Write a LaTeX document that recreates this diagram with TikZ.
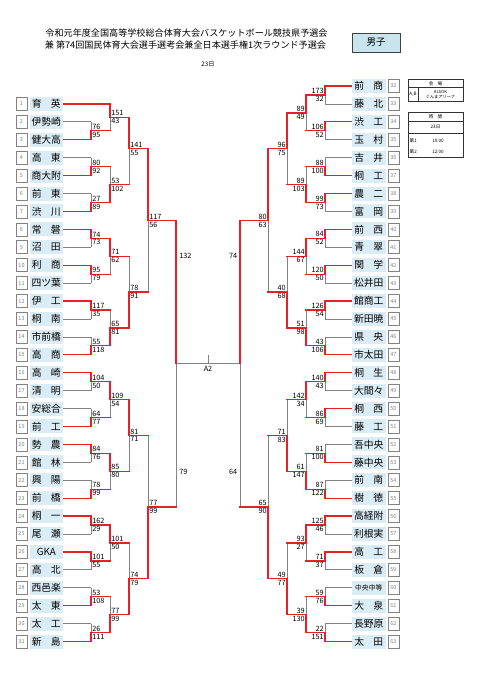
\documentclass[tikz,border=0pt]{standalone}
\usepackage{fontspec}
\newfontfamily\jp{Noto Sans CJK JP}
\definecolor{bred}{RGB}{228,32,40}
\definecolor{bgray}{RGB}{130,130,130}
\definecolor{cellblue}{RGB}{218,236,245}
\definecolor{titleblue}{RGB}{200,228,238}
\pgfdeclarelayer{bg}
\pgfdeclarelayer{paper}
\pgfsetlayers{paper,bg,main}
\tikzset{
  win/.style={draw=bred, line width=1.3pt, line cap=rect},
  lose/.style={draw=bgray, line width=0.7pt},
  sc/.style={font=\jp\fontsize{7.3}{7.3}\selectfont, inner sep=1.1pt},
  numbox/.style={draw=bgray, fill=white, line width=0.6pt, minimum width=11pt, minimum height=13pt, inner sep=0pt, font=\jp\fontsize{5.5}{5.5}\selectfont, text=bgray},
  namecell/.style={fill=cellblue, minimum width=33.5pt, minimum height=14pt, inner sep=0pt, font=\jp\fontsize{9.8}{9.8}\selectfont},
  boxline/.style={draw=black!80, line width=0.6pt},
  tiny/.style={font=\jp\fontsize{4.6}{4.6}\selectfont, inner sep=0pt},
}
\newcommand\two[2]{\makebox[29pt][s]{#1\hfil#2}}
% left team: index, name, style, x end
\newcommand\tL[4]{%
  \pgfmathsetmacro\myYy{86+#1*17.92}
  \node[numbox] (nL#1) at (21.5,\myYy) {#1};
  \node[namecell] (tL#1) at (46.25,\myYy) {#2};
  \ifx#3w\draw[win] (tL#1.east) -- (#4,\myYy);\else
  \begin{pgfonlayer}{bg}\draw[lose] (tL#1.east) -- (#4,\myYy);\end{pgfonlayer}\fi
}
% right team
\newcommand\tR[3]{%
  \pgfmathsetmacro\myYy{86+(#1-32)*17.92}
  \node[numbox] (nR#1) at (393.3,\myYy) {#1};
  \node[namecell] (tR#1) at (368.75,\myYy) {#2};
  \ifx#3w\draw[win] (tR#1.west) -- (325,\myYy);\else
  \begin{pgfonlayer}{bg}\draw[lose] (tR#1.west) -- (325,\myYy);\end{pgfonlayer}\fi
}
% match: xv, xout, row upper, row lower, row junction, winner u/l
\newcommand\mtcore[6]{%
  \pgfmathsetmacro\myYu{86+#3*17.92}
  \pgfmathsetmacro\myYl{86+#4*17.92}
  \pgfmathsetmacro\myYj{86+#5*17.92}
  \if#6u
    \begin{pgfonlayer}{bg}\draw[lose] (#1,\myYj) -- (#1,\myYl);\end{pgfonlayer}
    \draw[win] (#1,\myYu) -- (#1,\myYj);
  \else
    \begin{pgfonlayer}{bg}\draw[lose] (#1,\myYu) -- (#1,\myYj);\end{pgfonlayer}
    \draw[win] (#1,\myYj) -- (#1,\myYl);
  \fi
  \draw[win] (#1,\myYj) -- (#2,\myYj);
}
\newcommand\mtL[8]{%
  \mtcore{#1}{#2}{#3}{#4}{#5}{#6}
  \node[sc,anchor=south west] at (#1,\myYj) {#7};
  \node[sc,anchor=north west] at (#1,\myYj) {#8};
}
\newcommand\mtR[8]{%
  \mtcore{#1}{#2}{#3}{#4}{#5}{#6}
  \node[sc,anchor=south east] at (#1,\myYj) {#7};
  \node[sc,anchor=north east] at (#1,\myYj) {#8};
}
\begin{document}
\begin{tikzpicture}[x=1pt,y=-1pt]
\begin{pgfonlayer}{paper}
\fill[white] (0,0) rectangle (481,680);
\end{pgfonlayer}
\useasboundingbox (0,0) rectangle (481,680);

% header
\node[font=\jp\fontsize{9.1}{9.1}\selectfont, inner sep=0pt] (t1) at (186.5,33.5) {令和元年度全国高等学校総合体育大会バスケットボール競技県予選会};
\node[font=\jp\fontsize{9.1}{9.1}\selectfont, inner sep=0pt] (t2) at (185.5,45) {兼 第74回国民体育大会選手選考会兼全日本選手権1次ラウンド予選会};
\node[font=\jp\fontsize{6.2}{6.2}\selectfont, inner sep=0pt] (day) at (208,64.5) {23日};
\node[draw=black!75, line width=0.7pt, fill=titleblue, minimum width=48pt, minimum height=19pt, inner sep=0pt, font=\jp\fontsize{9.5}{9.5}\selectfont] (sex) at (376,42.5) {男子};

% info box 1
\draw[boxline] (408,79) rectangle (463,101);
\draw[boxline] (408,87.5) -- (463,87.5);
\draw[boxline] (418,87.5) -- (418,101);
\node[tiny] (v1) at (435.5,83.3) {会\hspace{4pt}場};
\node[tiny] (v2) at (413,94.3) {A,B};
\node[tiny, align=center, font=\jp\fontsize{4.2}{4.6}\selectfont] (v3) at (440.5,94.3) {ALSOK\\ぐんまアリーナ};
% info box 2
\draw[boxline] (408,112) rectangle (463,157);
\draw[boxline] (408,121.5) -- (463,121.5);
\draw[boxline] (408,133) -- (463,133);
\node[tiny] (w1) at (435.5,116.8) {時\hspace{4pt}間};
\node[tiny] (w2) at (435.5,127.3) {23日};
\node[tiny, anchor=west] (w3) at (409.5,140.5) {第1};
\node[tiny] (w4) at (438,140.5) {10:00};
\node[tiny, anchor=west] (w5) at (409.5,151.5) {第2};
\node[tiny] (w6) at (438,151.5) {12:00};

% left teams
\tL{1}{\two{育}{英}}{w}{110}
\tL{2}{伊勢崎}{l}{91}
\tL{3}{健大高}{w}{91}
\tL{4}{\two{高}{東}}{l}{91}
\tL{5}{商大附}{w}{91}
\tL{6}{\two{前}{東}}{l}{91}
\tL{7}{\two{渋}{川}}{w}{91}
\tL{8}{\two{常}{磐}}{w}{91}
\tL{9}{\two{沼}{田}}{l}{91}
\tL{10}{\two{利}{商}}{w}{91}
\tL{11}{四ツ葉}{l}{91}
\tL{12}{\two{伊}{工}}{w}{91}
\tL{13}{\two{桐}{南}}{l}{91}
\tL{14}{市前橋}{l}{91}
\tL{15}{\two{高}{商}}{w}{91}
\tL{16}{\two{高}{崎}}{w}{91}
\tL{17}{\two{清}{明}}{l}{91}
\tL{18}{安総合}{l}{91}
\tL{19}{\two{前}{工}}{w}{91}
\tL{20}{\two{勢}{農}}{w}{91}
\tL{21}{\two{館}{林}}{l}{91}
\tL{22}{\two{興}{陽}}{l}{91}
\tL{23}{\two{前}{橋}}{w}{91}
\tL{24}{\two{桐}{一}}{w}{91}
\tL{25}{\two{尾}{瀬}}{l}{91}
\tL{26}{GKA}{w}{91}
\tL{27}{\two{高}{北}}{l}{91}
\tL{28}{西邑楽}{l}{91}
\tL{29}{\two{太}{東}}{w}{91}
\tL{30}{\two{太}{工}}{l}{91}
\tL{31}{\two{新}{島}}{w}{91}

% right teams
\tR{32}{\two{前}{商}}{w}
\tR{33}{\two{藤}{北}}{l}
\tR{34}{\two{渋}{工}}{w}
\tR{35}{\two{玉}{村}}{l}
\tR{36}{\two{吉}{井}}{l}
\tR{37}{\two{桐}{工}}{w}
\tR{38}{\two{農}{二}}{w}
\tR{39}{\two{富}{岡}}{l}
\tR{40}{\two{前}{西}}{w}
\tR{41}{\two{青}{翠}}{l}
\tR{42}{\two{関}{学}}{w}
\tR{43}{松井田}{l}
\tR{44}{館商工}{w}
\tR{45}{新田暁}{l}
\tR{46}{\two{県}{央}}{l}
\tR{47}{市太田}{w}
\tR{48}{\two{桐}{生}}{w}
\tR{49}{大間々}{l}
\tR{50}{\two{桐}{西}}{w}
\tR{51}{\two{藤}{工}}{l}
\tR{52}{吾中央}{l}
\tR{53}{藤中央}{w}
\tR{54}{\two{前}{南}}{l}
\tR{55}{\two{樹}{徳}}{w}
\tR{56}{高経附}{w}
\tR{57}{利根実}{l}
\tR{58}{\two{高}{工}}{w}
\tR{59}{\two{板}{倉}}{l}
\tR{60}{{\fontsize{6.8}{6.8}\selectfont 中央中等}}{l}
\tR{61}{\two{大}{泉}}{w}
\tR{62}{長野原}{l}
\tR{63}{\two{太}{田}}{w}

% left round 1
\mtL{91}{110}{2}{3}{2.5}{l}{76}{95}
\mtL{91}{110}{4}{5}{4.5}{l}{80}{92}
\mtL{91}{110}{6}{7}{6.5}{l}{27}{89}
\mtL{91}{110}{8}{9}{8.5}{u}{74}{73}
\mtL{91}{110}{10}{11}{10.5}{u}{95}{79}
\mtL{91}{110}{12}{13}{12.5}{u}{117}{35}
\mtL{91}{110}{14}{15}{14.5}{l}{55}{118}
\mtL{91}{110}{16}{17}{16.5}{u}{104}{50}
\mtL{91}{110}{18}{19}{18.5}{l}{64}{77}
\mtL{91}{110}{20}{21}{20.5}{u}{84}{76}
\mtL{91}{110}{22}{23}{22.5}{l}{78}{99}
\mtL{91}{110}{24}{25}{24.5}{u}{162}{29}
\mtL{91}{110}{26}{27}{26.5}{u}{101}{55}
\mtL{91}{110}{28}{29}{28.5}{l}{53}{108}
\mtL{91}{110}{30}{31}{30.5}{l}{26}{111}
% left round 2
\mtL{110}{129}{1}{2.5}{1.75}{u}{151}{43}
\mtL{110}{129}{4.5}{6.5}{5.5}{l}{53}{102}
\mtL{110}{129}{8.5}{10.5}{9.5}{u}{71}{62}
\mtL{110}{129}{12.5}{14.5}{13.5}{l}{65}{81}
\mtL{110}{129}{16.5}{18.5}{17.5}{u}{109}{54}
\mtL{110}{129}{20.5}{22.5}{21.5}{u}{85}{80}
\mtL{110}{129}{24.5}{26.5}{25.5}{u}{101}{50}
\mtL{110}{129}{28.5}{30.5}{29.5}{l}{77}{99}
% left round 3
\mtL{129}{148}{1.75}{5.5}{3.5}{u}{141}{55}
\mtL{129}{148}{9.5}{13.5}{11.5}{l}{78}{91}
\mtL{129}{148}{17.5}{21.5}{19.5}{u}{81}{71}
\mtL{129}{148}{25.5}{29.5}{27.5}{l}{74}{79}
% left round 4
\mtL{148}{176}{3.5}{11.5}{7.5}{u}{117}{56}
\mtL{148}{176}{19.5}{27.5}{23.5}{l}{77}{99}

% right round 1
\mtR{325}{306}{0}{1}{0.5}{u}{173}{32}
\mtR{325}{306}{2}{3}{2.5}{u}{106}{52}
\mtR{325}{306}{4}{5}{4.5}{l}{88}{100}
\mtR{325}{306}{6}{7}{6.5}{u}{99}{73}
\mtR{325}{306}{8}{9}{8.5}{u}{84}{52}
\mtR{325}{306}{10}{11}{10.5}{u}{120}{50}
\mtR{325}{306}{12}{13}{12.5}{u}{126}{54}
\mtR{325}{306}{14}{15}{14.5}{l}{43}{106}
\mtR{325}{306}{16}{17}{16.5}{u}{140}{43}
\mtR{325}{306}{18}{19}{18.5}{u}{86}{69}
\mtR{325}{306}{20}{21}{20.5}{l}{81}{100}
\mtR{325}{306}{22}{23}{22.5}{l}{87}{122}
\mtR{325}{306}{24}{25}{24.5}{u}{125}{46}
\mtR{325}{306}{26}{27}{26.5}{u}{71}{37}
\mtR{325}{306}{28}{29}{28.5}{l}{59}{76}
\mtR{325}{306}{30}{31}{30.5}{l}{22}{151}
% right round 2
\mtR{306}{287}{0.5}{2.5}{1.5}{u}{89}{49}
\mtR{306}{287}{4.5}{6.5}{5.5}{l}{89}{103}
\mtR{306}{287}{8.5}{10.5}{9.5}{u}{144}{67}
\mtR{306}{287}{12.5}{14.5}{13.5}{l}{51}{98}
\mtR{306}{287}{16.5}{18.5}{17.5}{u}{142}{34}
\mtR{306}{287}{20.5}{22.5}{21.5}{l}{61}{147}
\mtR{306}{287}{24.5}{26.5}{25.5}{u}{93}{27}
\mtR{306}{287}{28.5}{30.5}{29.5}{l}{39}{130}
% right round 3
\mtR{287}{268}{1.5}{5.5}{3.5}{u}{96}{75}
\mtR{287}{268}{9.5}{13.5}{11.5}{l}{40}{68}
\mtR{287}{268}{17.5}{21.5}{19.5}{l}{71}{83}
\mtR{287}{268}{25.5}{29.5}{27.5}{l}{49}{77}
% right round 4
\mtR{268}{240}{3.5}{11.5}{7.5}{u}{80}{63}
\mtR{268}{240}{19.5}{27.5}{23.5}{l}{65}{90}

% final
\coordinate (fLt) at (176,220.4);
\coordinate (fLm) at (176,363.8);
\coordinate (fLb) at (176,507.1);
\coordinate (fRt) at (240,220.4);
\coordinate (fRm) at (240,363.8);
\coordinate (fRb) at (240,507.1);
\coordinate (tickT) at (208,355);
\coordinate (tickB) at (208,363.8);
\begin{pgfonlayer}{bg}
\draw[lose] (fLm) -- (fLb);
\draw[lose] (fRm) -- (fRb);
\draw[lose] (fLm) -- (fRm);
\draw[lose] (tickT) -- (tickB);
\end{pgfonlayer}
\draw[win] (fLt) -- (fLm);
\draw[win] (fRt) -- (fRm);
\node[sc, anchor=north] (a2) at (208,364.5) {A2};
\node[sc, anchor=west] (s132) at (178,256) {132};
\node[sc, anchor=east] (s74) at (238.5,256) {74};
\node[sc, anchor=west] (s79) at (178,472) {79};
\node[sc, anchor=east] (s64) at (238.5,472) {64};
\end{tikzpicture}
\end{document}
